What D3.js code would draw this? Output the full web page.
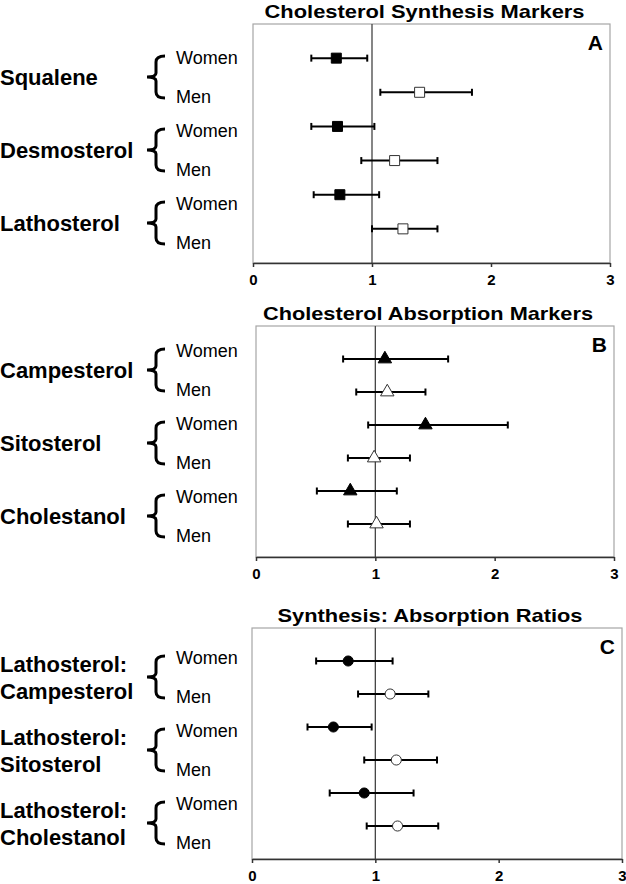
<!DOCTYPE html>
<html lang="en">
<head>
  <meta charset="UTF-8">
  <script src="https://d3js.org/d3.v7.min.js"></script>
  <title>Cholesterol markers, women vs men</title>
  <style>
    body { margin: 0; background: #fff; }
    text { font-family: "Liberation Sans", Arial, sans-serif; fill: #000; }
    .title { font-size: 19px; font-weight: bold; }
    .letter { font-size: 21px; font-weight: bold; }
    .marker-label { font-size: 22px; font-weight: bold; }
    .sex { font-size: 18px; }
    .axis text { font-size: 15px; font-weight: bold; fill: #000; }
    .axis path, .axis line { stroke: #333; stroke-width: 1.5px; }
    .frame { fill: none; stroke: #a6a6a6; stroke-width: 1.2px; }
    .refline { stroke: #444; stroke-width: 1.3px; }
    .err { stroke: #000; stroke-width: 2px; }
    .brace { fill: none; stroke: #000; stroke-width: 3px; }
  </style>
</head>
<body>
  <svg width="626" height="884"></svg>

  <script>
    const width = 626, height = 884;

    // each row: [mean, lower, upper]
    const groups = ["Women", "Men"];
    const xTicks = [0, 1, 2, 3];

    const synthLabels = [["Squalene"], ["Desmosterol"], ["Lathosterol"]];
    const synthWomen = [[0.70, 0.49, 0.96], [0.71, 0.49, 1.02], [0.73, 0.51, 1.06]];
    const synthMen = [[1.40, 1.07, 1.84], [1.19, 0.91, 1.55], [1.26, 1.00, 1.55]];

    const absLabels = [["Campesterol"], ["Sitosterol"], ["Cholestanol"]];
    const absWomen = [[1.08, 0.73, 1.61], [1.42, 0.94, 2.11], [0.79, 0.51, 1.18]];
    const absMen = [[1.10, 0.84, 1.42], [0.99, 0.77, 1.29], [1.01, 0.77, 1.29]];

    const ratioLabels = [["Lathosterol:", "Campesterol"], ["Lathosterol:", "Sitosterol"], ["Lathosterol:", "Cholestanol"]];
    const ratioWomen = [[0.78, 0.52, 1.14], [0.66, 0.45, 0.97], [0.91, 0.63, 1.31]];
    const ratioMen = [[1.12, 0.86, 1.43], [1.17, 0.91, 1.50], [1.18, 0.93, 1.51]];

    const svg = d3.select("svg");

    // layout of the three stacked panels
    const panels = [
      { title: "Cholesterol Synthesis Markers", titleW: 320, letter: "A", top: 24, bottom: 263, x0: 253, x3: 610,
        labelTop: 77, labels: synthLabels, women: synthWomen, men: synthMen, symbol: d3.symbolSquare, size: 100 },
      { title: "Cholesterol Absorption Markers", titleW: 330, letter: "B", top: 326, bottom: 557, x0: 256, x3: 614,
        labelTop: 370, labels: absLabels, women: absWomen, men: absMen, symbol: d3.symbolTriangle, size: 78 },
      { title: "Synthesis: Absorption Ratios", titleW: 305, letter: "C", top: 628, bottom: 859, x0: 252, x3: 622,
        labelTop: 677, labels: ratioLabels, women: ratioWomen, men: ratioMen, symbol: d3.symbolCircle, size: 80 }
    ];

    panels.forEach(drawPanel);

    function drawPanel(p) {
      const g = svg.append("g");

      const x = d3.scaleLinear().domain([0, 3]).range([p.x0, p.x3]);

      const rows = [];
      p.labels.forEach((lab, i) => {
        rows.push({ group: "Women", v: p.women[i] });
        rows.push({ group: "Men", v: p.men[i] });
      });
      const y = d3.scalePoint().domain(d3.range(rows.length)).range([p.top, p.bottom]).padding(1);

      // frame + axis
      g.append("rect").attr("class", "frame")
        .attr("x", p.x0).attr("y", p.top)
        .attr("width", p.x3 - p.x0).attr("height", p.bottom - p.top);

      g.append("line").attr("class", "refline")
        .attr("x1", x(1)).attr("x2", x(1))
        .attr("y1", p.top).attr("y2", p.bottom);

      g.append("g").attr("class", "axis")
        .attr("transform", `translate(0,${p.bottom})`)
        .call(d3.axisBottom(x).tickValues(xTicks).tickFormat(d3.format("d"))
          .tickSize(4).tickSizeOuter(0).tickPadding(7));

      g.append("text").attr("class", "title")
        .attr("x", (p.x0 + p.x3) / 2 - 7 - p.titleW / 2).attr("y", p.top - 6)
        .attr("textLength", p.titleW).attr("lengthAdjust", "spacingAndGlyphs")
        .text(p.title);

      g.append("text").attr("class", "letter")
        .attr("x", p.x3 - 7).attr("y", p.top + 26)
        .attr("text-anchor", "end")
        .text(p.letter);

      // error bars
      const bars = g.selectAll(".bar").data(rows).join("g").attr("class", "bar")
        .attr("transform", (d, i) => `translate(0,${y(i)})`);
      bars.append("line").attr("class", "err")
        .attr("x1", d => x(d.v[1])).attr("x2", d => x(d.v[2]));
      bars.append("line").attr("class", "err")
        .attr("x1", d => x(d.v[1])).attr("x2", d => x(d.v[1]))
        .attr("y1", -3.5).attr("y2", 3.5);
      bars.append("line").attr("class", "err")
        .attr("x1", d => x(d.v[2])).attr("x2", d => x(d.v[2]))
        .attr("y1", -3.5).attr("y2", 3.5);
      bars.append("path")
        .attr("d", d3.symbol(p.symbol, p.size))
        .attr("transform", d => `translate(${x(d.v[0])},0)`)
        .attr("fill", d => d.group === "Women" ? "#000" : "#fff")
        .attr("stroke", d => d.group === "Women" ? "#000" : "#333")
        .attr("stroke-width", 1);

      // left-hand labels with braces
      p.labels.forEach((lab, i) => {
        const m = p.labelTop + i * 73;
        const lg = g.append("g");
        const h = 21;
        lg.append("path").attr("class", "brace")
          .attr("d", `M165,${m - h} Q156,${m - h} 156,${m - h + 6} L156,${m - 4} Q156,${m} 147,${m}` +
                     ` Q156,${m} 156,${m + 4} L156,${m + h - 6} Q156,${m + h} 165,${m + h}`);
        lg.append("text").attr("class", "sex").attr("x", 176).attr("y", m - 13).text(groups[0]);
        lg.append("text").attr("class", "sex").attr("x", 176).attr("y", m + 26).text(groups[1]);
        if (lab.length === 1) {
          lg.append("text").attr("class", "marker-label").attr("x", 0).attr("y", m + 8).text(lab[0]);
        } else {
          lg.append("text").attr("class", "marker-label").attr("x", 0).attr("y", m - 5).text(lab[0]);
          lg.append("text").attr("class", "marker-label").attr("x", 0).attr("y", m + 22).text(lab[1]);
        }
      });
    }
  </script>
</body>
</html>
